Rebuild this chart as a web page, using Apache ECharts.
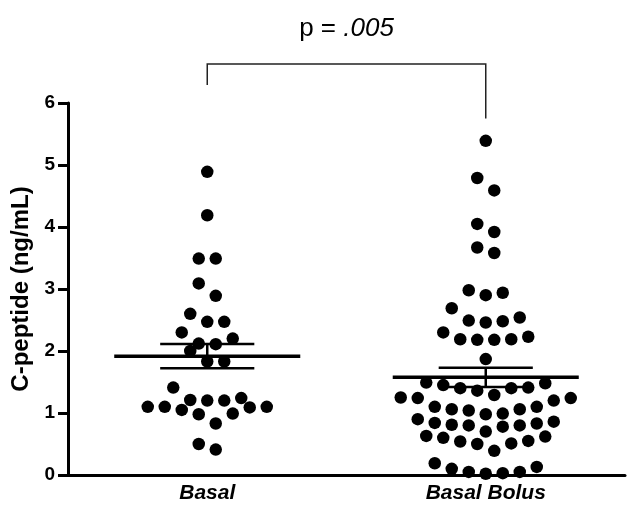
<!DOCTYPE html>
<html>
<head>
<meta charset="utf-8">
<script src="https://cdn.jsdelivr.net/npm/echarts@6/dist/echarts.min.js"></script>
<style>
  html, body { margin: 0; padding: 0; background: #fff; }
  #chart { width: 627px; height: 507px; }
</style>
</head>
<body>
<div id="chart"></div>
<script>
// ---- data ----
const categories = ['Basal', 'Basal Bolus'];
const basal = [4.89, 4.19, 3.49, 3.49, 3.09, 2.89, 2.60, 2.47, 2.47, 2.30, 2.20, 2.11, 2.12,
  2.00, 1.83, 1.83, 1.41, 1.21, 1.20, 1.20, 1.24, 1.10, 1.10, 1.05, 0.98, 0.99, 1.09, 1.10,
  0.83, 0.41, 0.50];
const basalBolus = [5.39, 4.79, 4.59, 4.05, 3.92, 3.67, 3.58, 2.98, 2.94, 2.90, 2.69, 2.54,
  2.49, 2.48, 2.46, 2.30, 2.23, 2.19, 2.19, 2.18, 2.18, 1.87, 1.49, 1.48, 1.45, 1.41, 1.40,
  1.40, 1.36, 1.29, 1.25, 1.24, 1.24, 1.20, 1.10, 1.10, 1.06, 1.06, 1.04, 0.99, 0.98, 0.90,
  0.86, 0.84, 0.83, 0.81, 0.80, 0.80, 0.78, 0.70, 0.63, 0.62, 0.60, 0.55, 0.54, 0.51, 0.50,
  0.39, 0.19, 0.13, 0.10, 0.05, 0.05, 0.03, 0.02];
const groups = [basal, basalBolus];
const yTicks = [0, 1, 2, 3, 4, 5, 6];
const pLabel = ['p = ', '.005'];
const yName = 'C-peptide (ng/mL)';

// ---- layout helpers ----
const FONT = '"Liberation Sans", Arial, Helvetica, sans-serif';
const GRID = { left: 68, right: 2, top: 103, bottom: 32 };
const plotW = 627 - GRID.left - GRID.right;
const unitPx = plotW / 2;            // hidden value axis spans 0.5..2.5
const pitch = 17 / unitPx;           // dot pitch in value units
const ROW_H = 0.275;                 // row height (data units) for the swarm

function swarm(values, center) {
  const v = values.slice().sort((a, b) => a - b);
  const pts = [];
  let i = 0;
  while (i < v.length) {
    const start = v[i];
    const row = [];
    while (i < v.length && v[i] < start + ROW_H) { row.push(v[i]); i++; }
    const n = row.length;
    row.forEach((val, k) => {
      let slot;
      if (n % 2 === 1) {
        slot = k === 0 ? 0 : Math.ceil(k / 2) * (k % 2 === 1 ? 1 : -1);
      } else {
        const m = Math.floor(k / 2) + 0.5;
        slot = k % 2 === 0 ? m : -m;
      }
      pts.push([center + slot * pitch, val]);
    });
  }
  return pts;
}

function meanSem(values) {
  const n = values.length;
  const m = values.reduce((a, b) => a + b, 0) / n;
  const sd = Math.sqrt(values.reduce((a, b) => a + (b - m) * (b - m), 0) / (n - 1));
  return [m, sd / Math.sqrt(n)];
}

const dots = [];
groups.forEach((g, gi) => swarm(g, gi + 1).forEach(p => dots.push(p)));
const stats = groups.map((g, gi) => { const s = meanSem(g); return [gi + 1, s[0], s[1]]; });

const chart = echarts.init(document.getElementById('chart'), null, { renderer: 'canvas' });
chart.setOption({
  animation: false,
  backgroundColor: '#ffffff',
  grid: GRID,
  xAxis: [{
    type: 'category',
    data: categories,
    boundaryGap: true,
    axisLine: { lineStyle: { color: '#000', width: 3 } },
    axisTick: { alignWithLabel: true, length: 8, lineStyle: { color: '#000', width: 3 } },
    axisLabel: { color: '#000', fontFamily: FONT, fontSize: 21, fontWeight: 'bold',
      fontStyle: 'italic', margin: 8 },
    splitLine: { show: false }
  }, {
    type: 'value', min: 0.5, max: 2.5, show: false
  }],
  yAxis: {
    type: 'value', min: yTicks[0], max: yTicks[yTicks.length - 1], interval: 1,
    name: yName, nameLocation: 'middle', nameGap: 34, nameRotate: 90,
    nameTextStyle: { color: '#000', fontFamily: FONT, fontSize: 24, fontWeight: 'bold' },
    axisLine: { show: true, lineStyle: { color: '#000', width: 3 } },
    axisTick: { show: true, length: 10, lineStyle: { color: '#000', width: 3 } },
    axisLabel: { color: '#000', fontFamily: FONT, fontSize: 19, fontWeight: 'bold', margin: 13 },
    splitLine: { show: false }
  },
  series: [{
    type: 'scatter',
    xAxisIndex: 1,
    data: dots,
    symbol: 'circle',
    symbolSize: 12.5,
    clip: false,
    itemStyle: { color: '#000', opacity: 1 },
    z: 3
  }, {
    type: 'custom',
    xAxisIndex: 1,
    data: stats,
    encode: { x: 0, y: 1 },
    clip: false,
    renderItem: function (params, api) {
      const x = api.value(0), m = api.value(1), se = api.value(2);
      const a = api.coord([x - 0.334, m]), b = api.coord([x + 0.334, m]);
      const t1 = api.coord([x - 0.169, m + se]), t2 = api.coord([x + 0.169, m + se]);
      const b1 = api.coord([x - 0.169, m - se]), b2 = api.coord([x + 0.169, m - se]);
      const c1 = api.coord([x, m + se]), c2 = api.coord([x, m - se]);
      const st = { stroke: '#000', lineWidth: 2.5 };
      return { type: 'group', children: [
        { type: 'line', shape: { x1: a[0], y1: a[1], x2: b[0], y2: b[1] }, style: { stroke: '#000', lineWidth: 3.5 } },
        { type: 'line', shape: { x1: t1[0], y1: t1[1], x2: t2[0], y2: t2[1] }, style: st },
        { type: 'line', shape: { x1: b1[0], y1: b1[1], x2: b2[0], y2: b2[1] }, style: st },
        { type: 'line', shape: { x1: c1[0], y1: c1[1], x2: c2[0], y2: c2[1] }, style: st }
      ]};
    },
    z: 4
  }, {
    type: 'custom',
    xAxisIndex: 1,
    data: [[1, 2]],
    encode: { x: 0 },
    clip: false,
    renderItem: function (params, api) {
      const l0 = api.coord([api.value(0), 6.29]);
      const l1 = api.coord([api.value(0), 6.63]);
      const r1 = api.coord([api.value(1), 6.63]);
      const r0 = api.coord([api.value(1), 5.75]);
      const mid = api.coord([(api.value(0) + api.value(1)) / 2, 7.2]);
      return { type: 'group', children: [
        { type: 'polyline', shape: { points: [l0, l1, r1, r0] },
          style: { stroke: '#222', lineWidth: 1.5, fill: null } },
        { type: 'text', x: mid[0], y: mid[1], style: {
            text: '{a|' + pLabel[0] + '}{b|' + pLabel[1] + '}',
            align: 'center', verticalAlign: 'middle',
            rich: {
              a: { fontFamily: FONT, fontSize: 26, color: '#111' },
              b: { fontFamily: FONT, fontSize: 26, fontStyle: 'italic', color: '#111' }
            }
        } }
      ]};
    },
    z: 5
  }]
});
</script>
</body>
</html>
